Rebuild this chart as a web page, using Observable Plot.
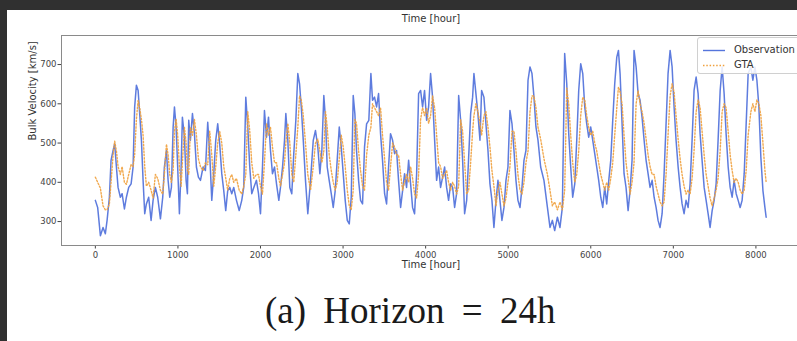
<!DOCTYPE html>
<html>
<head>
<meta charset="utf-8">
<script src="https://cdn.jsdelivr.net/npm/d3@7"></script>
<script src="https://cdn.jsdelivr.net/npm/@observablehq/plot@0.6"></script>
<style>
  html, body { margin: 0; padding: 0; background: #fff; width: 797px; height: 341px; overflow: hidden; position: relative; }
  #chart { position: absolute; left: 0; top: 0; width: 810px; }
  .strip { position: absolute; background: #303030; z-index: 10; }
  #legend { position: absolute; left: 697px; top: 37px; width: 115px; height: 35px; border: 1px solid #d0d0d0; border-radius: 3px; background: rgba(255,255,255,0.85); font-family: "DejaVu Sans", sans-serif; font-size: 10px; color: #333; z-index: 5; }
  .item { position: absolute; left: 5px; height: 12px; }
  .swatch { position: absolute; left: 0; top: 0; }
  .lab { position: absolute; left: 31px; top: -1px; white-space: nowrap; }
  #caption { position: absolute; left: 265px; top: 292px; font-family: "Liberation Serif", "DejaVu Serif", serif; font-size: 37px; line-height: 37px; word-spacing: 8px; color: #1a1a1a; white-space: nowrap; }
</style>
</head>
<body>
<div id="chart"></div>
<div id="legend">
  <div class="item" style="top:7px"><svg class="swatch" width="24" height="12"><line x1="0" y1="5.5" x2="22" y2="5.5" stroke="#5575dc" stroke-width="1.4"/></svg><span class="lab">Observation</span></div>
  <div class="item" style="top:22px"><svg class="swatch" width="24" height="12"><line x1="0" y1="5.5" x2="22" y2="5.5" stroke="#f0a03c" stroke-width="1.4" stroke-dasharray="1.5,1.8"/></svg><span class="lab">GTA</span></div>
</div>
<div id="caption">(a) Horizon = 24h</div>
<div class="strip" style="left:0;top:0;width:797px;height:10px"></div>
<div class="strip" style="left:0;top:0;width:7px;height:341px"></div>
<script>
const hours = [0,28,61,93,121,142,170,190,215,234,255,275,303,324,352,376,404,433,457,476,497,518,537,558,578,598,618,646,675,699,727,755,788,816,836,861,881,901,921,942,958,978,997,1018,1039,1054,1079,1099,1115,1131,1151,1176,1200,1224,1248,1273,1305,1333,1361,1385,1410,1434,1458,1482,1506,1531,1555,1579,1603,1628,1652,1676,1709,1742,1773,1797,1822,1846,1870,1894,1919,1951,1976,2000,2024,2048,2073,2097,2121,2145,2170,2194,2222,2242,2267,2291,2307,2331,2355,2379,2403,2428,2452,2473,2494,2518,2545,2573,2606,2639,2666,2694,2719,2743,2767,2788,2808,2832,2857,2881,2905,2929,2954,2978,3002,3026,3051,3075,3099,3123,3143,3163,3188,3212,3236,3260,3285,3312,3337,3357,3381,3406,3430,3454,3478,3503,3527,3551,3575,3600,3624,3648,3672,3697,3721,3745,3769,3794,3818,3842,3866,3891,3915,3939,3963,3987,4012,4036,4060,4084,4109,4133,4157,4181,4206,4230,4254,4278,4303,4327,4351,4375,4400,4424,4448,4472,4497,4521,4545,4569,4585,4609,4633,4658,4678,4706,4730,4755,4779,4803,4827,4852,4876,4900,4924,4949,4973,4997,5021,5046,5070,5094,5118,5143,5167,5191,5215,5240,5264,5288,5312,5336,5361,5393,5433,5475,5506,5535,5563,5596,5627,5656,5684,5709,5733,5757,5781,5806,5830,5854,5878,5903,5927,5951,5975,5999,6024,6048,6072,6096,6121,6145,6169,6193,6218,6242,6266,6290,6315,6335,6355,6379,6403,6427,6452,6476,6500,6524,6549,6573,6597,6621,6646,6670,6694,6718,6743,6767,6791,6815,6839,6864,6888,6912,6936,6961,6985,7009,7033,7058,7082,7106,7130,7154,7179,7203,7227,7251,7276,7300,7324,7348,7373,7397,7421,7445,7470,7494,7518,7542,7567,7591,7615,7639,7664,7688,7712,7736,7761,7785,7809,7833,7858,7882,7906,7939,7963,7988,8012,8036,8060,8085,8109,8124];

const observation = [354,336,264,285,269,303,362,456,481,498,439,387,362,371,332,362,387,396,439,592,647,634,575,507,405,320,345,362,303,354,387,362,307,362,439,481,405,362,387,541,592,541,439,320,439,566,515,405,371,558,507,575,524,439,413,405,439,430,553,473,354,422,507,549,498,422,379,328,379,387,371,387,354,328,354,387,617,541,439,371,387,405,371,320,439,583,515,566,481,422,439,396,354,387,439,507,575,507,387,371,473,558,677,651,592,507,405,320,405,507,532,490,422,481,621,558,439,405,371,336,379,456,541,490,422,354,303,294,362,621,575,481,405,354,345,490,549,558,677,609,617,592,626,524,456,371,345,439,524,507,473,481,405,336,379,422,387,456,396,336,320,422,626,634,592,634,558,592,677,617,507,405,439,387,413,439,387,354,396,387,336,371,621,558,456,320,354,464,575,617,677,626,575,507,634,617,549,481,396,354,285,354,405,354,303,336,405,439,583,549,481,405,354,336,387,456,481,660,694,677,617,541,507,439,405,336,285,303,277,311,285,336,728,651,524,439,362,396,507,634,702,677,592,549,515,541,507,473,439,405,362,336,387,345,405,456,558,651,719,736,677,549,422,387,328,379,456,736,694,626,609,566,507,456,422,387,405,362,336,303,285,320,422,549,677,736,694,592,507,439,387,345,320,354,336,396,507,634,668,626,524,456,387,354,320,285,328,354,396,507,634,694,626,524,439,387,362,405,371,354,336,354,422,549,677,694,660,694,660,592,464,379,336,311];

const gta = [413,400,385,340,330,330,345,400,470,505,480,440,420,440,400,395,420,445,440,470,560,609,590,560,520,440,390,400,380,360,420,410,380,370,420,497,470,420,400,430,530,562,520,440,390,450,540,500,430,420,540,520,560,520,460,440,430,450,445,530,470,390,440,500,530,500,440,410,380,410,420,400,410,380,370,390,420,580,530,450,410,420,420,390,370,450,550,520,540,490,450,450,410,390,420,450,500,550,500,420,400,470,540,620,610,570,500,420,380,440,500,510,480,450,480,580,540,470,430,400,380,400,460,520,490,440,380,340,330,380,560,550,480,430,390,380,470,520,540,600,590,580,570,590,520,460,400,380,440,500,490,470,470,420,380,400,420,400,440,410,370,360,420,560,590,570,590,550,570,620,590,520,450,440,410,420,430,400,380,400,390,370,390,560,530,450,370,380,450,530,570,600,580,550,520,570,580,540,490,430,390,340,380,400,370,340,360,400,440,530,530,480,420,380,370,400,450,480,580,620,620,590,540,510,460,420,380,340,350,330,350,330,380,640,600,520,450,400,420,480,570,617,610,570,540,520,530,500,480,450,420,400,380,400,380,410,450,520,590,643,630,600,520,450,410,370,400,450,600,634,600,580,550,510,470,440,420,420,390,370,350,340,350,420,520,620,651,630,570,510,460,420,390,370,380,370,410,480,580,610,590,530,470,420,390,360,340,360,380,410,480,580,600,590,530,470,430,400,410,400,380,370,380,430,520,580,600,580,610,600,570,500,430,400];

const xTicks = [0,1000,2000,3000,4000,5000,6000,7000,8000];
const yTicks = [300,400,500,600,700];

const obsData = hours.map((h, i) => ({hour: h, value: observation[i]}));
const gtaData = hours.map((h, i) => ({hour: h, value: gta[i]}));

const chart = Plot.plot({
  width: 810,
  height: 285,
  marginLeft: 61,
  marginRight: 10,
  marginTop: 35,
  marginBottom: 40,
  style: {fontFamily: "DejaVu Sans, sans-serif", fontSize: "8.5px", color: "#444", background: "transparent", maxWidth: "none", overflow: "visible"},
  x: {domain: [-410, 8540], ticks: xTicks, tickFormat: d => String(d), tickSize: 3.5, tickPadding: 2.5, label: null},
  y: {domain: [239, 774], ticks: yTicks, tickFormat: d => String(d), tickSize: 3.5, tickPadding: 1.5, label: null},
  marks: [
    Plot.line(obsData, {x: "hour", y: "value", stroke: "#5575dc", strokeWidth: 1.5, strokeOpacity: 0.95}),
    Plot.line(gtaData, {x: "hour", y: "value", stroke: "#f0a03c", strokeWidth: 1.4, strokeDasharray: "1.5,1.8", strokeOpacity: 0.9}),
    Plot.frame({stroke: "#8a8a8a"}),
    Plot.text(["Time [hour]"], {frameAnchor: "bottom", dy: 22, fontSize: 10, fill: "#333"}),
    Plot.text(["Time [hour]"], {frameAnchor: "top", dy: -21, fontSize: 10, fill: "#333"}),
    Plot.text(["Bulk Velocity [km/s]"], {frameAnchor: "left", dx: -29, rotate: -90, fontSize: 10, fill: "#333"})
  ]
});
document.getElementById("chart").appendChild(chart);
</script>
</body>
</html>
